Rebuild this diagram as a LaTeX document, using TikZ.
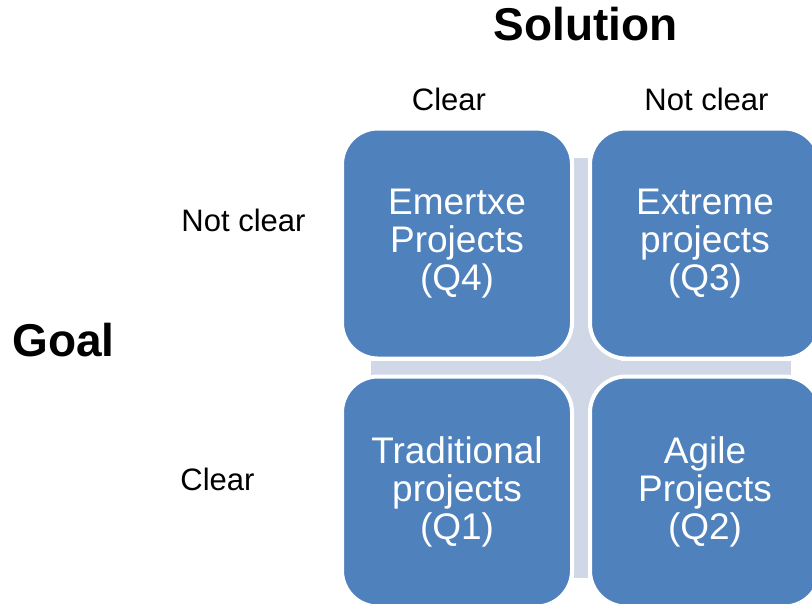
\documentclass[tikz,border=0pt]{standalone}
\usepackage{fontspec}
\setmainfont{Liberation Sans}
\usetikzlibrary{positioning,calc}
\definecolor{quadblue}{RGB}{79,129,189}
\definecolor{crossgrey}{RGB}{208,216,232}
\tikzstyle{quadrant}=[draw=white,line width=4pt,fill=quadblue,rounded corners=36pt,minimum width=230pt,minimum height=230pt,outer sep=0pt,inner sep=0pt,align=center,text=white,font=\fontsize{37}{38}\selectfont]
\tikzstyle{axislabel}=[inner sep=0pt,font=\fontsize{31}{31}\selectfont]
\tikzstyle{axistitle}=[inner sep=0pt,font=\fontsize{46}{46}\selectfont\bfseries]

\begin{document}
\begin{tikzpicture}[x=1pt,y=-1pt]
	\useasboundingbox (0,0) rectangle (812,603);
	\clip (0,0) rectangle (812,603);
	\coordinate (mid) at (581,367.5); % where the four quadrants meet
	% light cross behind the quadrants
	\fill[crossgrey] ($(mid)+(-210,-7)$) rectangle ($(mid)+(210,7)$);
	\fill[crossgrey] ($(mid)+(-7,-210)$) rectangle ($(mid)+(7,210)$);
	\fill[crossgrey] ($(mid)+(-40,-40)$) rectangle ($(mid)+(40,40)$);
	% the quadrants
	\node[quadrant,above left=9pt and 9pt of mid] (q4) {Emertxe\\Projects\\(Q4)};
	\node[quadrant,above right=9pt and 9pt of mid] (q3) {Extreme\\projects\\(Q3)};
	\node[quadrant,below left=9pt and 9pt of mid] (q1) {Traditional\\projects\\(Q1)};
	\node[quadrant,below right=9pt and 9pt of mid] (q2) {Agile\\Projects\\(Q2)};
	% axes
	\node[axistitle] (solution) at (585.5,24) {Solution};
	\node[axistitle] (goal) at (63.5,340) {Goal};
	\node[axislabel] (solclear) at (449,99) {Clear};
	\node[axislabel] (solnotclear) at (706.5,99) {Not clear};
	\node[axislabel] (goalnotclear) at (243.5,220) {Not clear};
	\node[axislabel] (goalclear) at (217.5,479) {Clear};
\end{tikzpicture}
\end{document}
